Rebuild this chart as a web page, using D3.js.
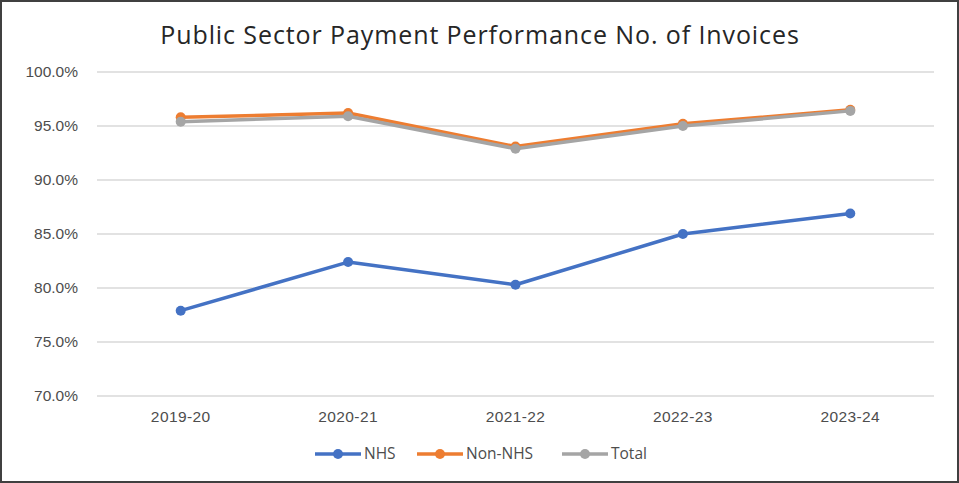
<!DOCTYPE html>
<html>
<head>
<meta charset="utf-8">
<script src="https://cdn.jsdelivr.net/npm/d3@7"></script>
<style>
  html, body { margin: 0; padding: 0; background: #fff; }
  svg { display: block; font-family: "Open Sans", "Noto Sans", sans-serif; }
</style>
</head>
<body>
<svg id="chart" width="959" height="483"></svg>
<script>
// chart data
const years = ["2019-20", "2020-21", "2021-22", "2022-23", "2023-24"];
const nhs = [77.9, 82.4, 80.3, 85.0, 86.9];
const nonNhs = [95.8, 96.2, 93.1, 95.2, 96.5];
const total = [95.4, 95.9, 92.9, 95.0, 96.4];
const yTicks = [70, 75, 80, 85, 90, 95, 100];
const seriesNames = ["NHS", "Non-NHS", "Total"];
const seriesColors = ["#4472c4", "#ed7d31", "#a5a5a5"];

const svg = d3.select('#chart');
const width = +svg.attr('width');
const height = +svg.attr('height');
const margin = { top: 72, right: 25, bottom: 87, left: 97 };

// outer frame
svg.append('rect')
  .attr('x', 1).attr('y', 1)
  .attr('width', width - 2).attr('height', height - 2)
  .attr('fill', '#fff')
  .attr('stroke', '#404040')
  .attr('stroke-width', 2);

const x = d3.scaleBand()
  .domain(years)
  .range([margin.left, width - margin.right]);

const y = d3.scaleLinear()
  .domain([70, 100])
  .range([height - margin.bottom, margin.top]);

// gridlines
svg.append('g')
  .selectAll('line')
  .data(yTicks)
  .enter()
  .append('line')
  .attr('x1', margin.left)
  .attr('x2', width - margin.right)
  .attr('y1', d => y(d))
  .attr('y2', d => y(d))
  .attr('stroke', '#d9d9d9')
  .attr('stroke-width', 1.3);

// y axis labels
const yAxis = svg.append('g')
  .attr('transform', `translate(${margin.left - 19},0)`)
  .call(d3.axisLeft(y).tickValues(yTicks).tickFormat(d => d.toFixed(1) + '%').tickSize(0));
yAxis.select('.domain').remove();
yAxis.selectAll('text')
  .attr('fill', '#4d4d4d')
  .style('font-size', '15.5px')
  .attr('x', 0);

// x axis labels
const xAxis = svg.append('g')
  .attr('transform', `translate(0,${height - margin.bottom + 12})`)
  .call(d3.axisBottom(x).tickSize(0));
xAxis.select('.domain').remove();
xAxis.selectAll('text')
  .attr('fill', '#4d4d4d')
  .style('font-size', '15.5px')
  .style('letter-spacing', '0.4px');

// title
svg.append('text')
  .attr('x', 480)
  .attr('y', 44)
  .attr('text-anchor', 'middle')
  .attr('fill', '#262626')
  .style('font-size', '25px')
  .style('letter-spacing', '0.9px')
  .text('Public Sector Payment Performance No. of Invoices');

// series: NHS, Non-NHS, Total (Total drawn last, on top)
const allSeries = [nhs, nonNhs, total];
const line = d3.line()
  .x((d, i) => x(years[i]) + x.bandwidth() / 2)
  .y(d => y(d));

allSeries.forEach((vals, s) => {
  const g = svg.append('g');
  g.append('path')
    .datum(vals)
    .attr('d', line)
    .attr('fill', 'none')
    .attr('stroke', seriesColors[s])
    .attr('stroke-width', 3.5)
    .attr('stroke-linejoin', 'round');
  g.selectAll('circle')
    .data(vals)
    .enter()
    .append('circle')
    .attr('cx', (d, i) => x(years[i]) + x.bandwidth() / 2)
    .attr('cy', d => y(d))
    .attr('r', 5)
    .attr('fill', seriesColors[s]);
});

// legend
const legendX = [315, 417, 562];
const legend = svg.append('g').attr('transform', 'translate(0,454)');
seriesNames.forEach((name, i) => {
  const lg = legend.append('g').attr('transform', `translate(${legendX[i]},0)`);
  lg.append('line')
    .attr('x1', 0).attr('x2', 46)
    .attr('stroke', seriesColors[i])
    .attr('stroke-width', 3.5);
  lg.append('circle')
    .attr('cx', 23).attr('r', 5)
    .attr('fill', seriesColors[i]);
  lg.append('text')
    .attr('x', 49)
    .attr('dy', '0.35em')
    .attr('fill', '#4d4d4d')
    .style('font-size', '15.5px')
    .text(name);
});
</script>
</body>
</html>
